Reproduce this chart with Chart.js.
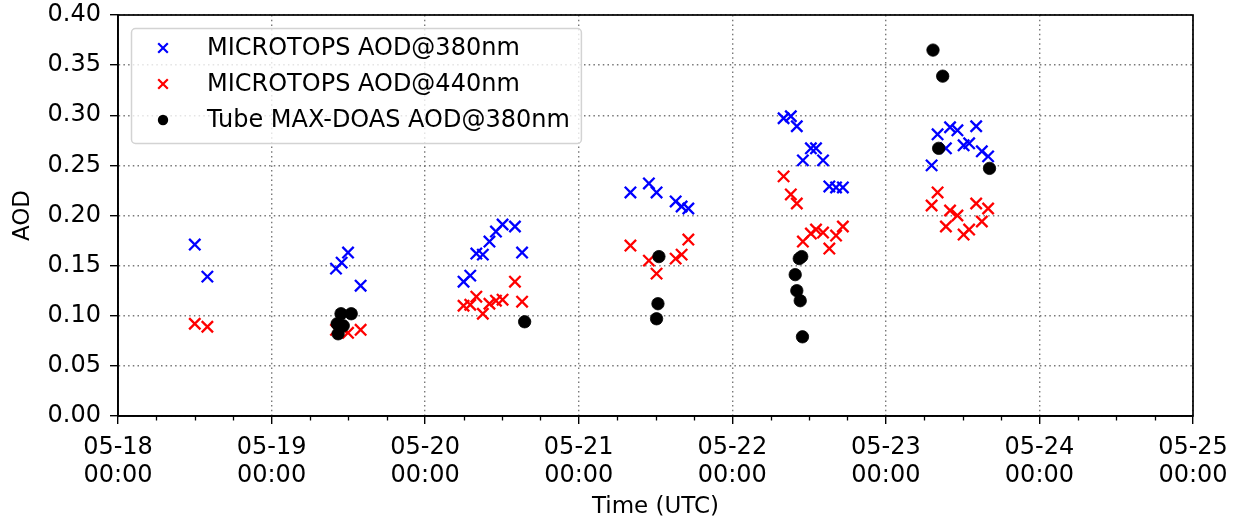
<!DOCTYPE html>
<html>
<head>
<meta charset="utf-8">
<script src="https://cdn.jsdelivr.net/npm/chart.js@4.4.1/dist/chart.umd.min.js"></script>
<style>
  html, body { margin: 0; padding: 0; background: #fff; }
  #wrap { width: 1239px; height: 523px; }
</style>
</head>
<body>
<div id="wrap"><canvas id="aod-chart" width="1239" height="523"></canvas></div>
<script>
// MICROTOPS measurement times (UTC), shared by both wavelengths
const microtopsTimes = [
  '05-18 12:00', '05-18 13:58',
  '05-19 10:04', '05-19 10:57', '05-19 11:57', '05-19 13:55',
  '05-20 06:00', '05-20 07:03', '05-20 08:00', '05-20 09:01', '05-20 10:03', '05-20 11:04', '05-20 12:06', '05-20 14:02', '05-20 15:09',
  '05-21 08:05', '05-21 10:58', '05-21 12:10', '05-21 15:09', '05-21 16:05', '05-21 17:08',
  '05-22 08:01', '05-22 09:09', '05-22 10:05', '05-22 11:02', '05-22 12:17', '05-22 13:05', '05-22 14:11', '05-22 15:10', '05-22 16:13', '05-22 17:17',
  '05-23 07:09', '05-23 08:05', '05-23 09:23', '05-23 10:02', '05-23 11:11', '05-23 12:09', '05-23 13:01', '05-23 14:07', '05-23 15:00', '05-23 15:59'
];
const aod380 = [
  0.171, 0.139,
  0.147, 0.153, 0.163, 0.130,
  0.134, 0.140, 0.162, 0.161, 0.174, 0.184, 0.191, 0.189, 0.163,
  0.223, 0.232, 0.223, 0.214, 0.209, 0.207,
  0.297, 0.299, 0.289, 0.255, 0.267, 0.267, 0.255, 0.229, 0.228, 0.228,
  0.250, 0.281, 0.267, 0.288, 0.285, 0.270, 0.272, 0.289, 0.264, 0.259
];
const aod440 = [
  0.092, 0.089,
  0.086, 0.088, 0.083, 0.086,
  0.110, 0.111, 0.119, 0.102, 0.112, 0.115, 0.116, 0.134, 0.114,
  0.170, 0.155, 0.142, 0.157, 0.161, 0.176,
  0.239, 0.221, 0.212, 0.174, 0.182, 0.186, 0.183, 0.167, 0.180, 0.189,
  0.210, 0.223, 0.189, 0.205, 0.200, 0.181, 0.186, 0.212, 0.194, 0.207
];

// Tube MAX-DOAS retrievals
const maxdoasTimes = [
  '05-19 10:15', '05-19 10:24', '05-19 10:51', '05-19 11:12', '05-19 12:27',
  '05-20 15:33',
  '05-21 12:10', '05-21 12:23', '05-21 12:32',
  '05-22 09:50', '05-22 10:05', '05-22 10:28', '05-22 10:37', '05-22 10:51', '05-22 10:58',
  '05-23 07:22', '05-23 08:15', '05-23 08:53', '05-23 16:12'
];
const maxdoasAod = [
  0.092, 0.082, 0.102, 0.090, 0.102,
  0.094,
  0.097, 0.112, 0.159,
  0.141, 0.125, 0.157, 0.115, 0.159, 0.079,
  0.365, 0.267, 0.339, 0.247
];

const dayLabels = ['05-18', '05-19', '05-20', '05-21', '05-22', '05-23', '05-24', '05-25'];
const firstDay = 18;
const minorTickHours = 6;

const FONT = "'DejaVu Sans', sans-serif";
Chart.defaults.font.family = FONT;
Chart.defaults.font.size = 24;
Chart.defaults.color = '#000';

// days since 05-18 00:00 UTC
function toDays(t) {
  const [md, hm] = t.split(' ');
  const day = parseInt(md.split('-')[1], 10);
  const [h, m] = hm.split(':').map(Number);
  return day - firstDay + (h + m / 60) / 24;
}

function toPoints(times, values) {
  return times.map((t, i) => ({ x: toDays(t), y: values[i] }));
}

// minor ticks on the time axis
const minorTicks = {
  id: 'minorTicks',
  afterDraw(chart) {
    const xs = chart.scales.x;
    const ctx = chart.ctx;
    const bottom = chart.chartArea.bottom;
    ctx.save();
    ctx.strokeStyle = '#000';
    ctx.lineWidth = 1.3;
    for (let h = minorTickHours; h < dayLabels.length * 24 - 24; h += minorTickHours) {
      if (h % 24 === 0) continue;
      const px = Math.round(xs.getPixelForValue(h / 24)) + 0.5;
      ctx.beginPath();
      ctx.moveTo(px, bottom);
      ctx.lineTo(px, bottom + 4.5);
      ctx.stroke();
    }
    ctx.restore();
  }
};

// full box around the plot, like the spines
const frame = {
  id: 'frame',
  afterDraw(chart) {
    const { left, top, right, bottom } = chart.chartArea;
    const ctx = chart.ctx;
    ctx.save();
    ctx.strokeStyle = '#000';
    ctx.lineWidth = 1.7;
    ctx.strokeRect(left, top, right - left, bottom - top);
    ctx.restore();
  }
};

// legend box in the upper left corner of the plot
const insideLegend = {
  id: 'insideLegend',
  afterDatasetsDraw(chart) {
    const ctx = chart.ctx;
    const { left, top } = chart.chartArea;
    const sets = chart.data.datasets;
    const bx = left + 13, by = top + 13;
    const markerX = left + 45, textX = left + 89;
    ctx.save();
    ctx.font = '24px ' + FONT;
    let maxW = 0;
    sets.forEach(ds => { maxW = Math.max(maxW, ctx.measureText(ds.label).width); });
    const w = textX + maxW + 11 - bx;
    const h = 115;

    ctx.beginPath();
    ctx.roundRect(bx + 0.5, by + 0.5, w, h, 4);
    ctx.fillStyle = 'rgba(255,255,255,0.8)';
    ctx.fill();
    ctx.strokeStyle = '#d3d3d3';
    ctx.lineWidth = 1.5;
    ctx.stroke();

    sets.forEach((ds, i) => {
      const cy = by + 20 + i * 36;
      ctx.strokeStyle = ds.borderColor;
      ctx.fillStyle = ds.backgroundColor;
      if (ds.pointStyle === 'crossRot') {
        const d = 4.8;
        ctx.lineWidth = 2.2;
        ctx.beginPath();
        ctx.moveTo(markerX - d, cy - d); ctx.lineTo(markerX + d, cy + d);
        ctx.moveTo(markerX - d, cy + d); ctx.lineTo(markerX + d, cy - d);
        ctx.stroke();
      } else {
        ctx.beginPath();
        ctx.arc(markerX, cy, 5.2, 0, Math.PI * 2);
        ctx.fill();
      }
      ctx.fillStyle = '#000';
      ctx.textBaseline = 'middle';
      ctx.textAlign = 'left';
      ctx.fillText(ds.label, textX, cy + 1);
    });
    ctx.restore();
  }
};

const gridColor = 'rgba(105,105,105,0.9)';

new Chart(document.getElementById('aod-chart'), {
  type: 'scatter',
  data: {
    datasets: [
      {
        label: 'MICROTOPS AOD@380nm',
        data: toPoints(microtopsTimes, aod380),
        pointStyle: 'crossRot',
        pointRadius: 8,
        borderWidth: 2.3,
        borderColor: '#0000ff',
        backgroundColor: '#0000ff',
        order: 2
      },
      {
        label: 'MICROTOPS AOD@440nm',
        data: toPoints(microtopsTimes, aod440),
        pointStyle: 'crossRot',
        pointRadius: 8,
        borderWidth: 2.3,
        borderColor: '#ff0000',
        backgroundColor: '#ff0000',
        order: 1
      },
      {
        label: 'Tube MAX-DOAS AOD@380nm',
        data: toPoints(maxdoasTimes, maxdoasAod),
        pointStyle: 'circle',
        pointRadius: 6.2,
        borderWidth: 0.8,
        borderColor: '#000',
        backgroundColor: '#000',
        order: 0
      }
    ]
  },
  options: {
    responsive: false,
    animation: false,
    events: [],
    layout: { padding: { left: 0, top: 15, right: 46, bottom: 0 } },
    plugins: {
      legend: { display: false },
      tooltip: { enabled: false }
    },
    scales: {
      x: {
        type: 'linear',
        min: 0,
        max: dayLabels.length - 1,
        afterFit(scale) { scale.height = 107; },
        ticks: {
          stepSize: 1,
          autoSkip: false,
          maxRotation: 0,
          padding: 9,
          font: { size: 24, lineHeight: 1.2 },
          callback: (v) => Number.isInteger(v) ? [dayLabels[v], '00:00'] : ''
        },
        grid: {
          color: gridColor,
          lineWidth: 1.4,
          tickColor: '#000',
          tickWidth: 1.4,
          tickLength: 8
        },
        border: { color: '#000', width: 1.7, dash: [1.5, 3.2] },
        title: {
          display: true,
          text: 'Time (UTC)',
          font: { size: 23 },
          padding: { top: 0, bottom: 2 }
        }
      },
      y: {
        min: 0,
        max: 0.4,
        afterFit(scale) {
          scale.width = 118;
          // let the layout padding alone decide where the plot starts
          scale.paddingTop = 0;
          scale.paddingBottom = 0;
        },
        ticks: {
          stepSize: 0.05,
          padding: 9,
          font: { size: 24 },
          callback: (v) => v.toFixed(2)
        },
        grid: {
          color: gridColor,
          lineWidth: 1.4,
          tickColor: '#000',
          tickWidth: 1.4,
          tickLength: 8
        },
        border: { color: '#000', width: 1.7, dash: [1.5, 3.2] },
        title: {
          display: true,
          text: 'AOD',
          font: { size: 23 },
          padding: { top: 9, bottom: 0 }
        }
      }
    }
  },
  plugins: [minorTicks, frame, insideLegend]
});
</script>
</body>
</html>
